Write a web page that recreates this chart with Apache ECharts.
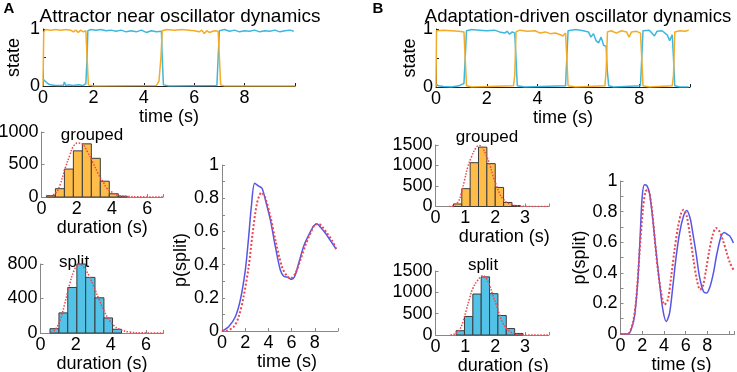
<!DOCTYPE html>
<html>
<head>
<meta charset="utf-8">
<script src="https://cdn.jsdelivr.net/npm/echarts@6/dist/echarts.min.js"></script>
<style>
  html, body { margin: 0; padding: 0; background: #fff; }
  #chart { width: 737px; height: 372px; }
</style>
</head>
<body>
<div id="chart"></div>
<script>
// ---- data ----
// state traces, [time, state]
var aOrange = [[0,0],[0.03,0.95],[0.1,0.99],[0.3,0.98],[0.5,0.99],[0.7,0.98],[0.9,0.99],[1.1,0.98],[1.2,0.95],[1.3,0.98],[1.4,0.94],[1.5,0.98],[1.6,0.95],[1.7,0.97],[1.75,0.5],[1.8,0.02],[2,0],[4.5,0.01],[4.6,0.08],[4.68,0.5],[4.73,0.97],[4.9,0.99],[5.2,0.98],[5.5,0.99],[5.8,0.98],[6.0,0.97],[6.2,0.95],[6.3,0.98],[6.4,0.92],[6.5,0.97],[6.6,0.94],[6.8,0.97],[6.95,0.96],[7.0,0.5],[7.05,0.02],[7.2,0],[10,0]];
var aBlue = [[0,0.12],[0.1,0.08],[0.2,0.04],[0.3,0.02],[0.5,0.01],[0.8,0.01],[0.85,0.07],[0.9,0.01],[1.0,0.02],[1.2,0.01],[1.4,0.02],[1.6,0.01],[1.7,0.04],[1.75,0.5],[1.78,0.97],[1.9,0.99],[2.1,0.98],[2.3,0.99],[2.5,0.97],[2.7,0.98],[2.9,0.96],[3.1,0.98],[3.3,0.95],[3.5,0.97],[3.7,0.95],[3.9,0.98],[4.1,0.94],[4.3,0.97],[4.5,0.95],[4.7,0.96],[4.73,0.5],[4.78,0.02],[5,0],[6.9,0.01],[6.95,0.5],[7.0,0.97],[7.2,0.99],[7.4,0.96],[7.6,0.98],[7.8,0.95],[8.0,0.97],[8.2,0.96],[8.4,0.98],[8.6,0.95],[8.8,0.97],[9.0,0.96],[9.2,0.98],[9.4,0.95],[9.6,0.97],[9.8,0.98],[9.95,0.96]];
var bOrange = [[0,0],[0.02,0.97],[0.3,0.98],[0.6,0.97],[0.9,0.96],[1.1,0.95],[1.15,0.5],[1.2,0.02],[1.4,0],[3.05,0.02],[3.1,0.2],[3.15,0.95],[3.3,0.98],[3.6,0.96],[3.9,0.97],[4.1,0.93],[4.3,0.95],[4.5,0.92],[4.7,0.93],[4.9,0.9],[5.0,0.88],[5.1,0.93],[5.15,0.5],[5.2,0.02],[5.5,0],[6.65,0.02],[6.7,0.3],[6.75,0.95],[6.9,0.97],[7.1,0.93],[7.3,0.97],[7.5,0.95],[7.6,0.86],[7.7,0.95],[7.9,0.96],[8.05,0.93],[8.1,0.5],[8.15,0.02],[8.4,0],[9.3,0.02],[9.35,0.2],[9.4,0.95],[9.6,0.97],[9.8,0.96],[9.95,0.98]];
var bBlue = [[0,0.05],[0.1,0.02],[0.3,0.01],[0.6,0],[0.9,0.02],[1.0,0.04],[1.1,0.06],[1.15,0.5],[1.2,0.97],[1.4,0.99],[1.7,0.98],[2.0,0.97],[2.3,0.98],[2.5,0.95],[2.7,0.93],[2.8,0.96],[2.9,0.91],[3.0,0.95],[3.1,0.93],[3.15,0.5],[3.2,0.02],[3.5,0],[5.1,0.02],[5.15,0.5],[5.2,0.97],[5.5,0.99],[5.8,0.97],[6.0,0.95],[6.1,0.86],[6.2,0.92],[6.3,0.8],[6.4,0.76],[6.5,0.86],[6.6,0.72],[6.7,0.7],[6.74,0.3],[6.8,0.02],[7,0],[8.05,0.02],[8.1,0.5],[8.15,0.97],[8.4,0.98],[8.6,0.88],[8.7,0.96],[8.9,0.97],[9.1,0.9],[9.2,0.8],[9.3,0.9],[9.35,0.5],[9.4,0.02],[9.6,0],[9.95,0]];

// histograms: bin edges and counts
var aGroupedEdges = [0.28, 0.79, 1.30, 1.81, 2.32, 2.83, 3.34, 3.85, 4.36, 4.87];
var aGroupedCounts = [20, 128, 430, 710, 818, 595, 243, 50, 12];
var aSplitEdges = [0.54, 1.05, 1.55, 2.07, 2.57, 3.10, 3.61, 4.10, 4.61];
var aSplitCounts = [50, 233, 528, 800, 645, 408, 175, 43];
var bGroupedEdges = [0.60, 0.88, 1.16, 1.44, 1.72, 2.00, 2.28, 2.56, 2.84];
var bGroupedCounts = [62, 435, 1068, 1448, 1045, 465, 98, 23];
var bSplitEdges = [0.69, 0.97, 1.25, 1.53, 1.81, 2.09, 2.37, 2.65, 2.93];
var bSplitCounts = [100, 434, 960, 1363, 968, 457, 151, 36];

// fitted densities (red dotted), [duration, count]
var aGroupedFit = [[0.5,10],[0.8,60],[1.05,185],[1.34,440],[1.62,650],[1.8,775],[2.05,830],[2.3,820],[2.6,700],[2.9,540],[3.2,370],[3.5,230],[3.7,140],[4.0,75],[4.3,30],[4.9,10],[5.5,3],[6.9,0]];
var aSplitFit = [[0.6,5],[0.8,31],[1.08,129],[1.36,324],[1.65,558],[1.93,733],[2.22,800],[2.5,753],[2.78,655],[3.07,519],[3.35,382],[3.64,246],[3.92,148],[4.2,82],[4.49,43],[5.06,12],[5.8,2],[7,0]];
var bGroupedFit = [[0.45,0],[0.58,16],[0.75,106],[0.86,309],[0.97,634],[1.08,959],[1.2,1203],[1.37,1447],[1.48,1488],[1.59,1407],[1.7,1244],[1.81,1041],[1.92,756],[2.04,512],[2.15,309],[2.26,187],[2.37,106],[2.54,49],[2.76,16],[3.1,2],[3.8,0]];
var bSplitFit = [[0.5,0],[0.64,23],[0.8,117],[0.92,312],[1.03,585],[1.14,858],[1.25,1092],[1.42,1287],[1.59,1388],[1.7,1326],[1.81,1170],[1.92,936],[2.04,702],[2.15,468],[2.26,273],[2.37,156],[2.54,62],[2.76,16],[3.1,2],[3.8,0]];

// p(split) over time: simulation (blue) and model (red dotted)
var aProbSim = [[0,0],[0.57,0.026],[1.15,0.086],[1.58,0.187],[2.01,0.367],[2.3,0.568],[2.53,0.749],[2.82,0.89],[3.16,0.873],[3.45,0.86],[3.74,0.79],[4.17,0.669],[4.6,0.508],[5.03,0.367],[5.32,0.33],[5.7,0.323],[5.98,0.311],[6.27,0.33],[6.61,0.408],[7.05,0.512],[7.48,0.578],[7.91,0.633],[8.2,0.645],[8.49,0.625],[8.92,0.589],[9.35,0.544],[9.84,0.494]];
var aProbModel = [[0,0],[0.29,0],[1.0,0.025],[1.44,0.086],[1.87,0.21],[2.3,0.387],[2.64,0.588],[3.02,0.77],[3.4,0.834],[3.74,0.8],[4.17,0.69],[4.6,0.548],[5.17,0.387],[5.6,0.33],[5.9,0.317],[6.33,0.347],[6.76,0.428],[7.2,0.518],[7.62,0.588],[8.05,0.643],[8.34,0.645],[8.63,0.629],[9.06,0.589],[9.5,0.544],[9.84,0.494]];
var bProbSim = [[0,0],[0.66,0],[0.98,0.028],[1.29,0.115],[1.6,0.355],[1.81,0.638],[2.0,0.9],[2.21,0.976],[2.43,0.969],[2.67,0.92],[2.98,0.747],[3.29,0.53],[3.6,0.333],[3.9,0.159],[4.21,0.082],[4.52,0.137],[4.82,0.311],[5.13,0.507],[5.44,0.66],[5.8,0.769],[6.1,0.808],[6.41,0.758],[6.66,0.66],[6.96,0.529],[7.27,0.376],[7.64,0.278],[7.94,0.268],[8.25,0.311],[8.56,0.399],[8.86,0.518],[9.26,0.638],[9.57,0.664],[9.87,0.649],[10.09,0.638],[10.4,0.595]];
var bProbModel = [[0,0],[0.66,0],[1.13,0.072],[1.44,0.224],[1.75,0.529],[2.06,0.812],[2.3,0.932],[2.52,0.943],[2.82,0.856],[3.13,0.638],[3.44,0.42],[3.75,0.268],[4.05,0.191],[4.36,0.224],[4.67,0.376],[4.98,0.551],[5.28,0.693],[5.59,0.791],[5.8,0.812],[6.1,0.769],[6.41,0.638],[6.72,0.486],[7.03,0.355],[7.33,0.29],[7.58,0.311],[7.88,0.42],[8.19,0.551],[8.5,0.649],[8.8,0.693],[9.11,0.671],[9.42,0.616],[9.79,0.529],[10.09,0.464],[10.4,0.42]];

var FONT = 'Liberation Sans';
var ORANGE = '#f4ab26';
var BLUE = '#3db7df';
var BAR_ORANGE = '#fdbd48';
var BAR_BLUE = '#52c2e6';
var RED = '#ec4650';
var SIM_BLUE = '#5555e6';
var GREY = '#888';

function valueAxis(gridIndex, min, max, interval, lineColor) {
    return {
        type: 'value', gridIndex: gridIndex, min: min, max: max, interval: interval,
        splitLine: { show: false },
        axisLine: { show: true, onZero: false, lineStyle: { color: lineColor, width: 1 } },
        axisTick: { show: true, inside: true, length: 3, lineStyle: { color: lineColor } },
        axisLabel: {
            color: '#000', fontFamily: FONT, fontSize: 18, margin: 3,
            formatter: function (v) { return String(v); }
        },
        nameLocation: 'middle',
        nameTextStyle: { color: '#000', fontFamily: FONT, fontSize: 18 }
    };
}

function xAxisOf(gridIndex, max, interval, lastLabel, lineColor, name, gap, shift) {
    var ax = valueAxis(gridIndex, 0, max, interval, lineColor);
    ax.axisLabel.formatter = function (v) { return v > lastLabel ? '' : String(v); };
    ax.name = name;
    ax.nameGap = gap;
    if (shift) ax.nameTextStyle.padding = [0, 0, 0, shift];
    return ax;
}

function yAxisOf(gridIndex, max, interval, lineColor, name, gap, shift) {
    var ax = valueAxis(gridIndex, 0, max, interval, lineColor);
    if (name) {
        ax.name = name;
        ax.nameGap = gap;
        if (shift) ax.nameTextStyle.padding = [0, shift, 0, 0];
    }
    return ax;
}

function histData(edges, counts) {
    var out = [];
    for (var i = 0; i < counts.length; i++) {
        out.push([edges[i], edges[i + 1], counts[i]]);
    }
    return out;
}

function renderBin(params, api) {
    var topLeft = api.coord([api.value(0), api.value(2)]);
    var bottomRight = api.coord([api.value(1), 0]);
    return {
        type: 'rect',
        shape: { x: topLeft[0], y: topLeft[1], width: bottomRight[0] - topLeft[0], height: bottomRight[1] - topLeft[1] },
        style: { fill: api.visual('color'), stroke: '#3b3b3b', lineWidth: 1 }
    };
}

function histSeries(idx, edges, counts, color) {
    return {
        type: 'custom', xAxisIndex: idx, yAxisIndex: idx, renderItem: renderBin,
        itemStyle: { color: color }, encode: { x: [0, 1], y: 2 },
        data: histData(edges, counts), silent: true
    };
}

function lineSeries(idx, data, color, width, dotted, smooth) {
    return {
        type: 'line', xAxisIndex: idx, yAxisIndex: idx, data: data,
        showSymbol: false, smooth: smooth, silent: true, z: 3,
        lineStyle: { color: color, width: width, type: dotted ? 'dotted' : 'solid' }
    };
}

var grids = [
    { left: 43, top: 29, width: 252, height: 57 },        // A state
    { left: 436, top: 29, width: 254, height: 58 },       // B state
    { left: 41.5, top: 132, width: 121.5, height: 65 },   // A grouped
    { left: 40.5, top: 264, width: 123, height: 69 },     // A split
    { left: 222, top: 165, width: 116, height: 166 },     // A p(split)
    { left: 435.5, top: 145, width: 113.5, height: 61.5 },// B grouped
    { left: 435.5, top: 271, width: 113.5, height: 64 },  // B split
    { left: 620.5, top: 181, width: 114, height: 153 }    // B p(split)
].map(function (g) { g.outerBoundsMode = 'none'; g.containLabel = false; return g; });

var xAxes = [
    xAxisOf(0, 10, 2, 8, '#222', 'time (s)', 11),
    xAxisOf(1, 10, 2, 8, '#222', 'time (s)', 12),
    xAxisOf(2, 6.9, 2, 6, GREY, 'duration (s)', 18),
    xAxisOf(3, 7, 2, 6, GREY, 'duration (s)', 18),
    xAxisOf(4, 10, 2, 8, GREY, 'time (s)', 16, 14),
    xAxisOf(5, 3.8, 1, 3, GREY, 'duration (s)', 10, 24),
    xAxisOf(6, 3.8, 1, 3, GREY, 'duration (s)', 11, 22),
    xAxisOf(7, 10.5, 2, 8, GREY, 'time (s)', 15, 8)
];

var yAxes = [
    yAxisOf(0, 1, 1, '#222', 'state', 20),
    yAxisOf(1, 1, 1, '#222', 'state', 11),
    yAxisOf(2, 1000, 500, GREY),
    yAxisOf(3, 800, 400, GREY),
    yAxisOf(4, 1, 0.2, GREY, 'p(split)', 31, 24),
    yAxisOf(5, 1500, 500, GREY),
    yAxisOf(6, 1500, 500, GREY),
    yAxisOf(7, 1, 0.2, GREY, 'p(split)', 31)
];
[0, 1].forEach(function (i) { yAxes[i].minorTick = { show: true, splitNumber: 2, length: 3 }; });
[4, 7].forEach(function (i) { yAxes[i].minorTick = { show: true, splitNumber: 2, length: 3, lineStyle: { color: GREY } }; });

function label(text, x, y, size, bold) {
    return {
        type: 'text', x: x, y: y, silent: true,
        style: { text: text, fill: '#000', font: (bold ? 'bold ' : '') + size + 'px "' + FONT + '"', textAlign: 'center', textVerticalAlign: 'middle' }
    };
}

var option = {
    backgroundColor: '#fff',
    animation: false,
    grid: grids,
    xAxis: xAxes,
    yAxis: yAxes,
    graphic: [
        label('A', 9, 9, 15, true),
        label('B', 378, 9, 15, true),
        label('Attractor near oscillator dynamics', 180, 17, 19),
        label('Adaptation-driven oscillator dynamics', 578, 17, 18.5),
        label('grouped', 92, 135, 17),
        label('split', 74, 262, 17),
        label('grouped', 487, 137, 17),
        label('split', 483, 265, 17)
    ],
    series: [
        lineSeries(0, aBlue, BLUE, 1.5, false, false),
        lineSeries(0, aOrange, ORANGE, 1.5, false, false),
        lineSeries(1, bBlue, BLUE, 1.5, false, false),
        lineSeries(1, bOrange, ORANGE, 1.5, false, false),
        histSeries(2, aGroupedEdges, aGroupedCounts, BAR_ORANGE),
        lineSeries(2, aGroupedFit, RED, 1.5, true, 0.4),
        histSeries(3, aSplitEdges, aSplitCounts, BAR_BLUE),
        lineSeries(3, aSplitFit, RED, 1.5, true, 0.4),
        lineSeries(4, aProbSim, SIM_BLUE, 1.5, false, 0.3),
        lineSeries(4, aProbModel, RED, 2, true, 0.3),
        histSeries(5, bGroupedEdges, bGroupedCounts, BAR_ORANGE),
        lineSeries(5, bGroupedFit, RED, 1.5, true, 0.4),
        histSeries(6, bSplitEdges, bSplitCounts, BAR_BLUE),
        lineSeries(6, bSplitFit, RED, 1.5, true, 0.4),
        lineSeries(7, bProbSim, SIM_BLUE, 1.5, false, 0.3),
        lineSeries(7, bProbModel, RED, 2, true, 0.3)
    ]
};

var myChart = echarts.init(document.getElementById('chart'), null, { renderer: 'canvas' });
myChart.setOption(option);
</script>
</body>
</html>
